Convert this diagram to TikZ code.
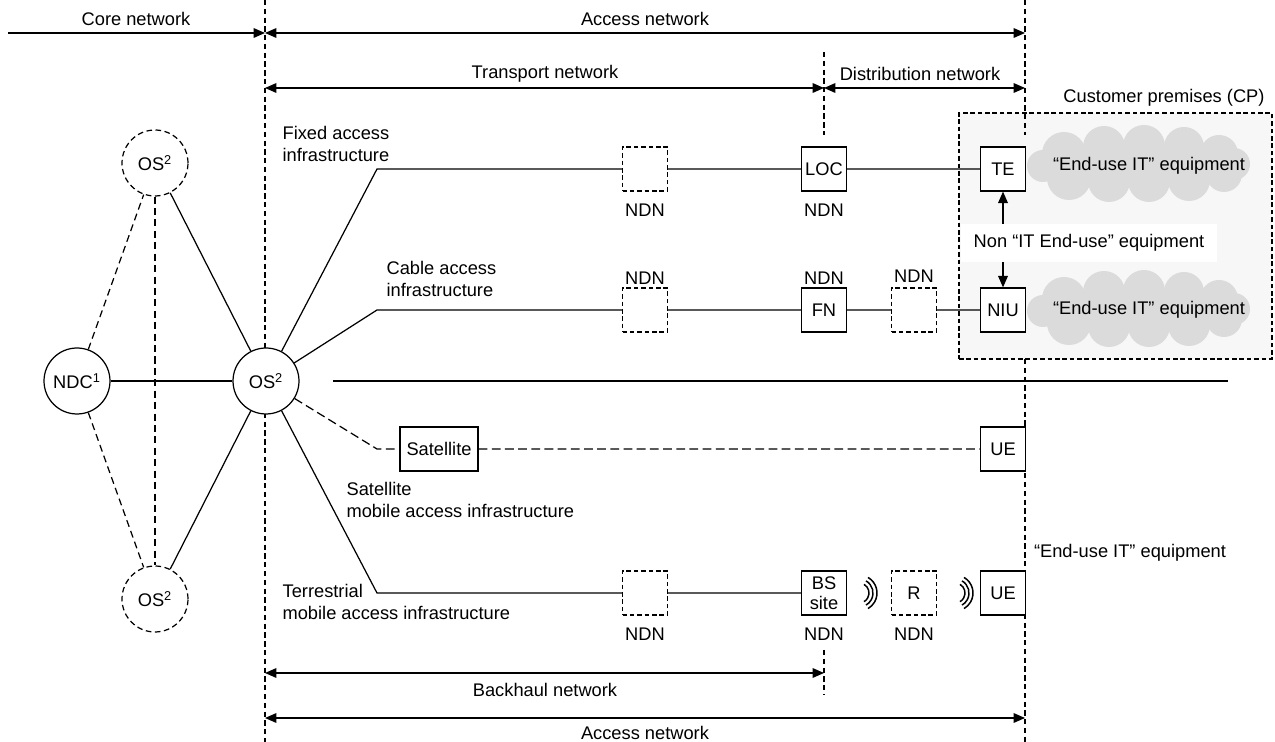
\documentclass[tikz,border=0pt]{standalone}
\usepackage{fontspec}
\setmainfont{Liberation Sans}
\usetikzlibrary{arrows.meta}

\begin{document}
\begin{tikzpicture}[x=0.02cm,y=-0.02cm,line width=0.7pt,
  font=\fontsize{10.4}{12.5}\selectfont,
  lbl/.style={inner sep=0pt},
  box/.style={draw,fill=white,minimum width=0.9cm,minimum height=0.88cm,inner sep=1pt,align=center,font=\fontsize{10.4}{11.2}\selectfont},
  dbox/.style={box,dash pattern=on 2.6pt off 1.6pt},
  site/.style={draw,circle,fill=white,minimum size=1.32cm,inner sep=0pt},
  dsite/.style={site,dash pattern=on 3.2pt off 2pt},
  divider/.style={dash pattern=on 3pt off 2pt},
  backup/.style={dash pattern=on 4pt off 2.5pt},
  radio/.style={dash pattern=on 5pt off 2.5pt},
  span/.style={{Triangle[length=6.5pt,width=5.5pt]}-{Triangle[length=6.5pt,width=5.5pt]}},
  tip/.style={-{Triangle[length=6.5pt,width=5.5pt]}},
  puff/.style={fill=gray!28}]
\useasboundingbox (0,0) rectangle (1275,742);

\node[draw,dash pattern=on 2.6pt off 1.6pt,fill=gray!6,minimum width=6.26cm,minimum height=4.92cm] (cp) at (1115.5,236) {};
\node[lbl] (cp lbl) at (1164,98) {Customer premises (CP)};
\coordinate (cld1) at (1139,164);
\coordinate (cld2) at (1139,309);
\foreach \c in {cld1,cld2} {
  \fill[puff,shift={(\c)}] (0,0) ellipse[x radius=95,y radius=22];
  \foreach \dx/\dy/\r in {-75/-10/22,-35/-17/21,5/-18/21,45/-17/20,80/-10/19,
      -96/2/16,95/0/16,-70/14/22,-30/17/21,10/17/21,50/16/21,85/10/18}
    \fill[puff,shift={(\c)}] (\dx,\dy) circle[radius=\r];
}
\node[lbl] (eu1) at (1149,166) {“End-use IT” equipment};
\node[lbl] (eu2) at (1149,310) {“End-use IT” equipment};

\draw[divider] (265,0) -- (265,742);
\draw[divider] (1025,0) -- (1025,135);
\draw[divider] (1025,359) -- (1025,742);
\draw[divider] (824,52) -- (824,135);
\draw[divider] (824,650) -- (824,695);

\coordinate (core l) at (8,33);
\coordinate (core r) at (265,33);
\coordinate (acc r) at (1025,33);
\coordinate (tr l) at (265,88);
\coordinate (tr r) at (824,88);
\coordinate (dist r) at (1025,88);
\coordinate (bh l) at (265,673);
\coordinate (bh r) at (824,673);
\coordinate (acc2 l) at (265,718);
\coordinate (acc2 r) at (1025,718);
\draw[tip] (core l) -- (core r);
\draw[span] (core r) -- (acc r);
\draw[span] (tr l) -- (tr r);
\draw[span] (tr r) -- (dist r);
\draw[span] (bh l) -- (bh r);
\draw[span] (acc2 l) -- (acc2 r);
\node[lbl] (core lbl) at (136,19) {Core network};
\node[lbl] (acc lbl) at (645,19) {Access network};
\node[lbl] (tr lbl) at (545,74) {Transport network};
\node[lbl] (dist lbl) at (920,74) {Distribution network};
\node[lbl] (bh lbl) at (545,690) {Backhaul network};
\node[lbl] (acc2 lbl) at (645,733) {Access network};

\node[site] (ndc) at (77,381) {NDC\textsuperscript{1}};
\node[site] (os) at (266,381) {OS\textsuperscript{2}};
\node[dsite] (os top) at (155,163) {OS\textsuperscript{2}};
\node[dsite] (os bot) at (155,599) {OS\textsuperscript{2}};
\draw (ndc) -- (os);
\draw (os top) -- (os);
\draw (os bot) -- (os);
\draw[backup] (ndc) -- (os top);
\draw[backup] (ndc) -- (os bot);
\draw[backup] (os top) -- (os bot);

\coordinate (fix c) at (377,169);
\coordinate (cab c) at (377,310);
\coordinate (sat c) at (377,449);
\coordinate (ter c) at (377,593);

\node[dbox] (fx1) at (645,169) {};
\node[box] (loc) at (824,169) {LOC};
\node[box] (te) at (1003,169) {TE};
\node[dbox] (cb1) at (645,310) {};
\node[box] (fn) at (824,310) {FN};
\node[dbox] (cb2) at (914,310) {};
\node[box] (niu) at (1003,310) {NIU};
\node[box,minimum width=1.56cm] (sat) at (439,449) {Satellite};
\node[box] (ue1) at (1003,449) {UE};
\node[dbox] (tr1) at (645,593) {};
\node[box] (bs) at (824,593) {BS\\site};
\node[dbox] (rep) at (914,593) {R};
\node[box] (ue2) at (1003,593) {UE};

\draw (os) -- (fix c) -- (fx1) -- (loc) -- (te);
\draw (os) -- (cab c) -- (cb1) -- (fn) -- (cb2) -- (niu);
\draw[radio] (os) -- (sat c) -- (sat) -- (ue1);
\draw (os) -- (ter c) -- (tr1) -- (bs);
\draw (333,381) -- (1228,381);

\coordinate (w1) at (859,593);
\coordinate (w2) at (955,593);
\foreach \c in {w1,w2}
  \foreach \r in {10,14,18}
    \draw[line width=0.85pt] (\c) ++(-60:\r) arc[start angle=-60,end angle=60,radius=\r];

\draw[span] (te) -- (niu);
\node[fill=white,inner xsep=0.26cm,inner ysep=0.2cm] (nonit) at (1089,243) {Non “IT End-use” equipment};

\node[lbl] (ndn1) at (645,210) {NDN};
\node[lbl] (ndn2) at (824,210) {NDN};
\node[lbl] (ndn3) at (645,278) {NDN};
\node[lbl] (ndn4) at (824,278) {NDN};
\node[lbl] (ndn5) at (914,276) {NDN};
\node[lbl] (ndn6) at (645,634) {NDN};
\node[lbl] (ndn7) at (824,634) {NDN};
\node[lbl] (ndn8) at (914,634) {NDN};

\node[lbl,align=left,anchor=west] (fix lbl) at (282,144) {Fixed access\\infrastructure};
\node[lbl,align=left,anchor=west] (cab lbl) at (386,279) {Cable access\\infrastructure};
\node[lbl,align=left,anchor=west] (sat lbl) at (346,500) {Satellite\\mobile access infrastructure};
\node[lbl,align=left,anchor=west] (ter lbl) at (282,602) {Terrestrial\\mobile access infrastructure};
\node[lbl] (eu3) at (1130,553) {“End-use IT” equipment};
\end{tikzpicture}
\end{document}
